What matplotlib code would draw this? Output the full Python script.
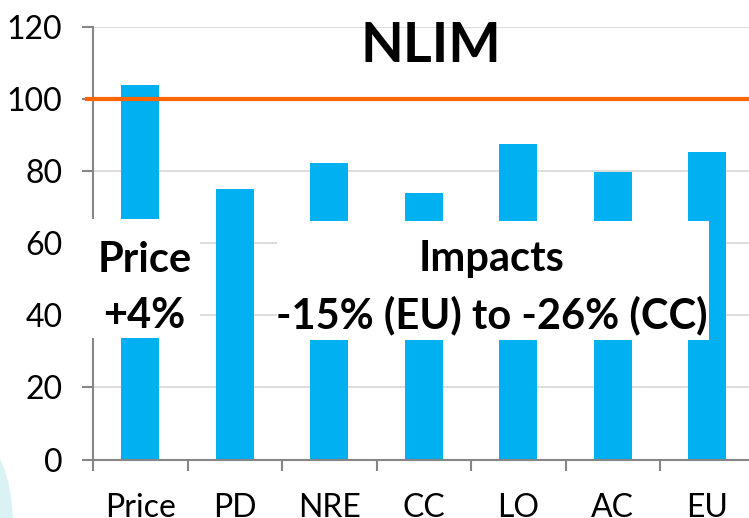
import matplotlib
matplotlib.use('Agg')
import matplotlib.pyplot as plt
from matplotlib.patches import Rectangle, Ellipse
import numpy as np

# data
categories = ['Price', 'PD', 'NRE', 'CC', 'LO', 'AC', 'EU']
values = [104.0, 75.1, 82.3, 74.0, 87.7, 79.7, 85.5]
reference_level = 100
y_ticks = [0, 20, 40, 60, 80, 100, 120]

bar_color = '#00B0F0'
line_color = '#FF6600'
font = ['Lato', 'DejaVu Sans']

plt.rcParams['font.family'] = font

W, H = 749, 518
fig = plt.figure(figsize=(W / 100, H / 100), dpi=100)
ax = fig.add_axes([93 / W, 58.5 / H, 661.5 / W, (459.5 - 27.3) / H])

x = np.arange(len(categories))
ax.bar(x, values, width=0.40, color=bar_color, zorder=2)

# reference line at 100
ax.plot([-0.565, len(categories)], [reference_level, reference_level],
        color=line_color, linewidth=3.0, clip_on=False, zorder=3)

ax.set_xlim(-0.5, len(categories) - 0.5)
ax.set_ylim(0, 120)
ax.set_yticks(y_ticks)
ax.set_yticklabels([str(v) for v in y_ticks], fontsize=23)
ax.set_xticks(x)
ax.set_xticklabels(categories, fontsize=23)
ax.set_xticks(np.arange(len(categories) + 1) - 0.5, minor=True)

ax.tick_params(axis='x', which='major', length=0, pad=24)
ax.tick_params(axis='x', which='minor', length=8, width=1.5, color='#868686', direction='out')
ax.tick_params(axis='y', length=8, width=1.5, color='#868686', pad=14)

ax.grid(axis='y', color='#D9D9D9', linewidth=1.3, zorder=0)
ax.set_axisbelow(True)
for s in ['top', 'right']:
    ax.spines[s].set_visible(False)
for s in ['left', 'bottom']:
    ax.spines[s].set_color('#868686')
    ax.spines[s].set_linewidth(1.5)


def fig_rect(x0, y0, x1, y1, **kw):
    r = Rectangle((x0 / W, 1 - y1 / H), (x1 - x0) / W, (y1 - y0) / H,
                  transform=fig.transFigure, **kw)
    fig.add_artist(r)


def fig_label(xc, baseline, s, size):
    fig.text(xc / W, 1 - baseline / H, s, ha='center', va='baseline',
             fontsize=size, fontweight='bold', zorder=6)


# white text boxes laid over the bars
fig_rect(66, 219, 200, 338, facecolor='white', edgecolor='none', zorder=5)
fig_rect(277, 221, 709, 340, facecolor='white', edgecolor='none', zorder=5)

fig_label(144.5, 271.5, 'Price', 30)
fig_label(144.5, 328, '+4%', 30)
fig_label(492, 271.5, 'Impacts', 30)
fig_label(492, 328, '-15% (EU) to -26% (CC)', 30)

# title
fig_label(431, 62.3, 'NLIM', 40)

# light decoration from the slide background, bottom left
fig.add_artist(Ellipse((-22 / W, 1 - 525 / H), 70 / W, 170 / H,
                       transform=fig.transFigure, facecolor='#DAF2F4',
                       edgecolor='none', zorder=-1))

fig.savefig('out.png', dpi=100)
